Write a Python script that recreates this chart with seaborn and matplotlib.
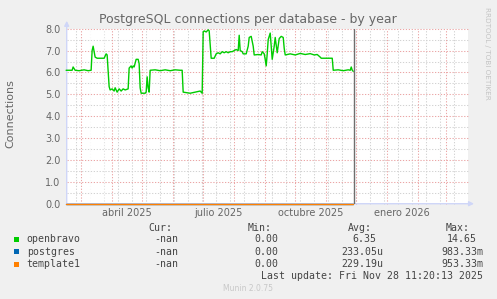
import numpy as np
import pandas as pd
import matplotlib
matplotlib.use("Agg")
import matplotlib.pyplot as plt
from matplotlib.patches import Rectangle
import seaborn as sns

# ---------------- data ----------------
ob_dates = [
    "2025-02-14", "2025-02-20", "2025-02-21", "2025-02-23", "2025-02-27", "2025-03-04",
    "2025-03-08", "2025-03-11", "2025-03-12", "2025-03-13", "2025-03-15", "2025-03-17",
    "2025-03-24", "2025-03-26", "2025-03-27", "2025-03-29", "2025-03-30", "2025-04-01",
    "2025-04-03", "2025-04-04", "2025-04-06", "2025-04-08", "2025-04-10", "2025-04-12",
    "2025-04-14", "2025-04-17", "2025-04-18", "2025-04-20", "2025-04-21", "2025-04-22",
    "2025-04-23", "2025-04-25", "2025-04-27", "2025-04-28", "2025-04-29", "2025-04-30",
    "2025-05-04", "2025-05-05", "2025-05-06", "2025-05-07", "2025-05-08", "2025-05-09",
    "2025-05-14", "2025-05-19", "2025-05-24", "2025-05-29", "2025-06-03", "2025-06-08",
    "2025-06-10", "2025-06-11", "2025-06-18", "2025-06-23", "2025-06-28", "2025-06-30",
    "2025-07-01", "2025-07-02", "2025-07-04", "2025-07-06", "2025-07-07", "2025-07-09",
    "2025-07-12", "2025-07-14", "2025-07-16", "2025-07-18", "2025-07-20", "2025-07-22",
    "2025-07-24", "2025-07-26", "2025-07-28", "2025-07-30", "2025-08-01", "2025-08-03",
    "2025-08-05", "2025-08-06", "2025-08-07", "2025-08-09", "2025-08-10", "2025-08-13",
    "2025-08-15", "2025-08-16", "2025-08-18", "2025-08-20", "2025-08-21", "2025-08-25",
    "2025-08-28", "2025-08-29", "2025-08-31", "2025-09-01", "2025-09-02", "2025-09-03",
    "2025-09-04", "2025-09-06", "2025-09-07", "2025-09-08", "2025-09-10", "2025-09-11",
    "2025-09-13", "2025-09-15", "2025-09-17", "2025-09-19", "2025-09-20", "2025-09-21",
    "2025-09-26", "2025-10-01", "2025-10-06", "2025-10-11", "2025-10-16", "2025-10-20",
    "2025-10-23", "2025-10-26", "2025-10-27", "2025-11-07", "2025-11-08", "2025-11-13",
    "2025-11-18", "2025-11-23", "2025-11-25", "2025-11-26", "2025-11-27", "2025-11-28",
]
openbravo = [
    6.10, 6.10, 6.25, 6.10, 6.08, 6.12,
    6.08, 6.10, 7.00, 7.20, 6.70, 6.65,
    6.65, 6.85, 6.80, 5.35, 5.20, 5.25,
    5.15, 5.30, 5.10, 5.25, 5.15, 5.25,
    5.20, 5.25, 6.20, 6.30, 6.20, 6.30,
    6.25, 6.60, 6.60, 6.40, 5.30, 5.05,
    5.05, 5.10, 5.80, 5.30, 5.10, 6.10,
    6.12, 6.08, 6.12, 6.08, 6.12, 6.10,
    6.10, 5.10, 5.05, 5.10, 5.15, 5.05,
    7.85, 7.90, 7.85, 7.95, 7.90, 6.65,
    6.65, 6.85, 6.90, 6.85, 6.95, 6.90,
    6.95, 6.90, 6.95, 6.95, 7.00, 7.05,
    7.00, 7.70, 7.00, 6.95, 6.85, 6.85,
    7.20, 7.60, 7.65, 7.20, 6.80, 6.82,
    6.80, 6.95, 6.85, 6.60, 6.30, 6.85,
    7.50, 7.80, 7.20, 6.60, 7.20, 7.60,
    6.90, 7.55, 7.65, 7.60, 7.10, 6.80,
    6.85, 6.80, 6.87, 6.82, 6.86, 6.80,
    6.82, 6.70, 6.65, 6.65, 6.10, 6.12,
    6.08, 6.12, 6.10, 6.25, 6.10, 6.05,
]
zero_dates = ["2025-02-14", "2025-11-28"]
postgres = [0.0, 0.0]
template1 = [0.0, 0.0]

y_ticks = [0, 1, 2, 3, 4, 5, 6, 7, 8]
x_label_dates = ["2025-04-16", "2025-07-16", "2025-10-16", "2026-01-16"]
x_labels = ["abril 2025", "julio 2025", "octubre 2025", "enero 2026"]
x_start, x_end = "2025-02-14 14:00", "2026-03-22 17:00"
now = "2025-11-28 11:20"

legend_names = ["openbravo", "postgres", "template1"]
legend_cur = ["-nan", "-nan", "-nan"]
legend_min = ["0.00", "0.00", "0.00"]
legend_avg = ["6.35", "233.05u", "229.19u"]
legend_max = ["14.65", "983.33m", "953.33m"]
colors = {"openbravo": "#00CC00", "postgres": "#0066B3", "template1": "#FF8000"}

df = pd.concat([
    pd.DataFrame({"date": pd.to_datetime(ob_dates), "value": openbravo, "db": "openbravo"}),
    pd.DataFrame({"date": pd.to_datetime(zero_dates), "value": postgres, "db": "postgres"}),
    pd.DataFrame({"date": pd.to_datetime(zero_dates), "value": template1, "db": "template1"}),
], ignore_index=True)

# ---------------- figure ----------------
sns.set_theme(style="white")
plt.rcParams['font.family'] = ['DejaVu Sans']

W, H = 497, 299
fig = plt.figure(figsize=(W / 100, H / 100), dpi=100, facecolor="#F0F0F0")
L, R, T, B = 66.7, 468.0, 28.7, 203.7
ax = fig.add_axes([L / W, 1 - B / H, (R - L) / W, (B - T) / H])
ax.set_facecolor("white")

def fx(x):
    return x / W

def fy(y):
    return 1 - y / H

xs, xe = pd.Timestamp(x_start), pd.Timestamp(x_end)
ax.set_xlim(xs, xe)
ax.set_ylim(0, 8)

grid_gray = "#D2D2D2"
grid_red = "#EBA6A6"
dot = (0, (1.2, 1.6))
# vertical grid: biweekly minor, monthly major
for d in pd.date_range("2025-02-24", xe, freq="14D"):
    ax.axvline(d, color=grid_gray, lw=0.75, ls=dot, zorder=0)
for d in pd.date_range("2025-03-01", xe, freq="MS"):
    ax.axvline(d, color=grid_red, lw=0.75, ls=dot, zorder=0.5)
for v in np.arange(0.5, 8.0, 1.0):
    ax.axhline(v, color=grid_gray, lw=0.75, ls=dot, zorder=0)
for v in y_ticks[1:]:
    ax.axhline(v, color=grid_red, lw=0.75, ls=dot, zorder=0.5)

# axes arrows
axis_col = "#CFD6F8"
ax.annotate("", xy=(0, 1.045), xytext=(0, 0), xycoords="axes fraction",
            arrowprops=dict(arrowstyle="-|>", color=axis_col, lw=1.0,
                            mutation_scale=7, shrinkA=0, shrinkB=0), zorder=2)
ax.annotate("", xy=(1.015, 0), xytext=(0, 0), xycoords="axes fraction",
            arrowprops=dict(arrowstyle="-|>", color=axis_col, lw=1.0,
                            mutation_scale=7, shrinkA=0, shrinkB=0), zorder=2)

sns.lineplot(data=df, x="date", y="value", hue="db", palette=colors,
             hue_order=["openbravo", "postgres", "template1"],
             linewidth=1.0, legend=False, ax=ax, zorder=3)
lines = ax.get_lines()
for ln in lines:
    ln.set_clip_on(False)
lines[1].set_alpha(0.1)
lines[2].set_alpha(0.6)

ax.axvline(pd.Timestamp(now), color="#6E6E6E", lw=1.0, zorder=4)

for s in ax.spines.values():
    s.set_visible(False)

ax.set_yticks(y_ticks)
ax.set_yticklabels([f"{v:.1f}" for v in y_ticks])
ax.set_xticks(pd.to_datetime(x_label_dates))
ax.set_xticklabels(x_labels)
ax.tick_params(axis="both", length=0, colors="#666666", labelsize=7)
ax.tick_params(axis="y", pad=4.5)
ax.tick_params(axis="x", pad=3)
ax.set_xlabel("")
ax.set_ylabel("")

font_col = "#666666"
fig.text(fx(248), fy(19), "PostgreSQL connections per database - by year",
         ha="center", va="center", fontsize=9, color=font_col)
fig.text(fx(10.5), fy(114), "Connections", rotation=90, ha="center", va="center",
         fontsize=8, color=font_col)
fig.text(fx(487.5), fy(53), "RRDTOOL / TOBI OETIKER", rotation=270, ha="center",
         va="center", fontsize=5.2, color="#C4C4C4")
fig.text(fx(248), fy(288.3), "Munin 2.0.75", ha="center", va="center",
         fontsize=5.5, color="#C8C8C8")

# legend table
mono = dict(family="DejaVu Sans Mono", fontsize=7.1, color="#444444", va="center")
hdr_y = 227.7
fig.text(fx(172.3), fy(hdr_y), "Cur:", ha="right", **mono)
fig.text(fx(271.7), fy(hdr_y), "Min:", ha="right", **mono)
fig.text(fx(371.7), fy(hdr_y), "Avg:", ha="right", **mono)
fig.text(fx(470.0), fy(hdr_y), "Max:", ha="right", **mono)
row_y = [239.3, 251.6, 264.0]
for i, name in enumerate(legend_names):
    y = row_y[i]
    fig.patches.append(Rectangle((fx(14), fy(y + 2.5)), 5 / W, 5 / H,
                                 transform=fig.transFigure, facecolor=colors[name],
                                 edgecolor="none"))
    fig.text(fx(26.7), fy(y), name, ha="left", **mono)
    fig.text(fx(178.3), fy(y), legend_cur[i], ha="right", **mono)
    fig.text(fx(278.3), fy(y), legend_min[i], ha="right", **mono)
    avg = legend_avg[i]
    fig.text(fx(383.3 if avg[-1].isalpha() else 376.7), fy(y), avg, ha="right", **mono)
    mx = legend_max[i]
    fig.text(fx(483.3 if mx[-1].isalpha() else 476.7), fy(y), mx, ha="right", **mono)
fig.text(fx(483.3), fy(275.7), "Last update: Fri Nov 28 11:20:13 2025", ha="right", **mono)

fig.savefig("out.png", dpi=100, facecolor=fig.get_facecolor())
